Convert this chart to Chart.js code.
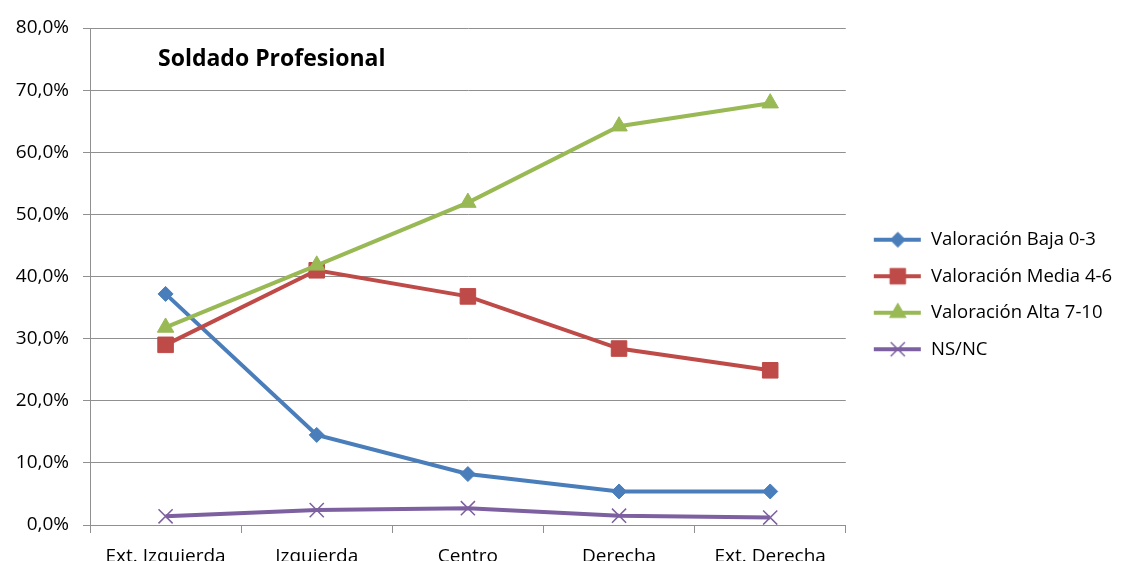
<!DOCTYPE html>
<html>
<head>
<meta charset="utf-8">
<script src="https://cdn.jsdelivr.net/npm/chart.js@4/dist/chart.umd.min.js"></script>
<style>
  html, body { margin: 0; padding: 0; background: #fff; }
  #wrap { width: 1122px; height: 561px; }
</style>
</head>
<body>
<div id="wrap"><canvas id="chart" width="1122" height="561"></canvas></div>
<script>
const categories = ["Ext. Izquierda", "Izquierda", "Centro", "Derecha", "Ext. Derecha"];
const seriesNames = ["Valoración Baja 0-3", "Valoración Media 4-6", "Valoración Alta 7-10", "NS/NC"];
const baja = [37.2, 14.5, 8.2, 5.4, 5.4];
const media = [29.0, 41.0, 36.8, 28.4, 24.9];
const alta = [31.8, 41.8, 51.9, 64.2, 67.9];
const nsnc = [1.4, 2.4, 2.7, 1.5, 1.2];
const chartTitle = "Soldado Profesional";

const FONT = '"Open Sans", sans-serif';
const gridGray = "#909090";

const styles = [
  { color: "#4A7EBB", point: "rectRot", radius: 7.5, border: 1 },
  { color: "#BE4B48", point: "rect", radius: 11, border: 1 },
  { color: "#98B954", point: "triangle", radius: 9.5, border: 1 },
  { color: "#7D60A0", point: "crossRot", radius: 10, border: 1.5 },
];

// small line + marker sample used as the legend symbol (left margin included)
function legendSample(s) {
  const c = document.createElement("canvas");
  c.width = 58;
  c.height = 22;
  const ctx = c.getContext("2d");
  ctx.strokeStyle = s.color;
  ctx.fillStyle = s.color;
  ctx.lineWidth = 4;
  ctx.beginPath();
  ctx.moveTo(10, 11);
  ctx.lineTo(57, 11);
  ctx.stroke();
  ctx.lineWidth = s.border;
  Chart.helpers.drawPoint(ctx, { pointStyle: s.point, radius: s.radius, borderWidth: s.border }, 34, 11);
  return c;
}

const values = [baja, media, alta, nsnc];
const drawOrder = [3, 2, 1, 0];

const titlePlugin = {
  id: "innerTitle",
  afterDraw(chart) {
    const ctx = chart.ctx;
    ctx.save();
    ctx.font = 'bold 23px ' + FONT;
    ctx.fillStyle = "#000";
    ctx.textBaseline = "alphabetic";
    ctx.fillText(chartTitle, 158, 66);
    ctx.restore();
  },
};

new Chart(document.getElementById("chart"), {
  type: "line",
  data: {
    labels: categories,
    datasets: values.map((v, i) => ({
      label: seriesNames[i],
      data: v,
      order: drawOrder[i],
      borderColor: styles[i].color,
      backgroundColor: styles[i].color,
      borderWidth: 4,
      tension: 0,
      pointStyle: styles[i].point,
      pointRadius: styles[i].radius,
      pointHoverRadius: styles[i].radius,
      pointBorderWidth: styles[i].border,
      pointBackgroundColor: styles[i].color,
      pointBorderColor: styles[i].color,
    })),
  },
  options: {
    responsive: false,
    animation: false,
    layout: { padding: { top: 28, right: 0, left: 0, bottom: 0 } },
    plugins: {
      legend: {
        position: "right",
        align: "center",
        labels: {
          usePointStyle: true,
          pointStyleWidth: 58,
          padding: 18,
          color: "#000",
          font: { family: FONT, size: 18.5 },
          sort: (a, b) => a.datasetIndex - b.datasetIndex,
          generateLabels: (chart) =>
            chart.data.datasets.map((ds, i) => ({
              text: ds.label,
              datasetIndex: i,
              pointStyle: legendSample(styles[i]),
              fillStyle: styles[i].color,
              strokeStyle: styles[i].color,
              lineWidth: 0,
              hidden: false,
            })),
        },
      },
      tooltip: { enabled: false },
    },
    scales: {
      x: {
        offset: true,
        border: { color: gridGray, width: 1 },
        grid: { offset: true, drawOnChartArea: false, drawTicks: true, tickLength: 8, color: gridGray },
        ticks: { color: "#000", font: { family: FONT, size: 19 }, padding: 12, maxRotation: 0 },
        afterFit: (scale) => { scale.height = 36; },
      },
      y: {
        min: 0,
        max: 80,
        border: { color: gridGray, width: 1 },
        grid: { color: gridGray, tickLength: 7 },
        ticks: {
          stepSize: 10,
          color: "#000",
          padding: 14,
          font: { family: FONT, size: 19 },
          callback: (v) => v.toFixed(1).replace(".", ",") + "%",
        },
        afterFit: (scale) => { scale.width = 90; },
      },
    },
  },
  plugins: [titlePlugin],
});
</script>
</body>
</html>
